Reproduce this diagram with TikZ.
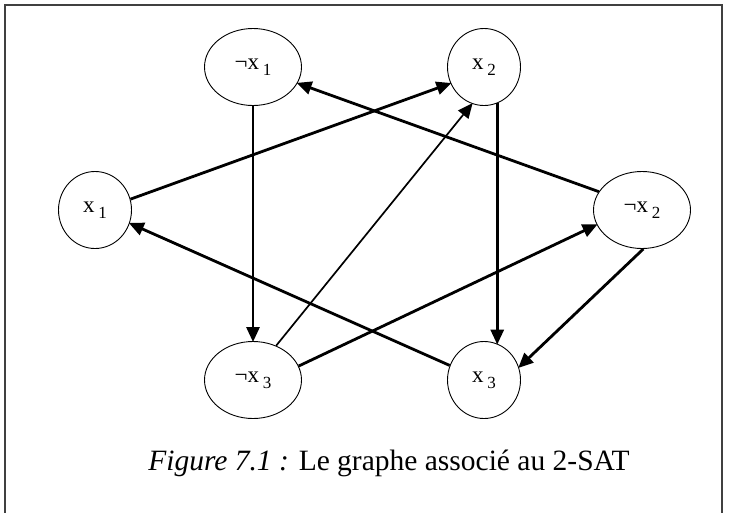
\documentclass[tikz,border=0pt]{standalone}
\usepackage{fontspec}
\setmainfont{Liberation Serif}
\usetikzlibrary{arrows.meta,shapes.geometric}
\newcommand{\lbl}[2]{#1\,\raisebox{-0.25em}{\fontsize{17}{17}\selectfont #2}}
\begin{document}
\begin{tikzpicture}[x=1pt,y=-1pt,
  vert/.style={ellipse,draw,line width=0.9pt,inner sep=0pt,minimum height=77pt,font=\fontsize{23}{23}\selectfont},
  wide/.style={vert,minimum width=97pt},
  narrow/.style={vert,minimum width=73pt},
  edge/.style={line width=2.8pt,-{Triangle[length=15pt,width=13pt]},shorten >=-1pt},
  thinedge/.style={line width=1.7pt,-{Triangle[length=15pt,width=13pt]},shorten >=-1pt},
  frame/.style={line width=1.6pt,draw=black!75}]
\useasboundingbox (0,0) rectangle (730,512);
\draw[frame] (5,514) -- (5,5) -- (722,5) -- (722,514);
\node[wide]   (nx1) at (253,67)  {\lbl{¬x}{1}};
\node[narrow] (x2)  at (484,67)  {\lbl{x}{2}};
\node[narrow] (x1)  at (95,210)  {\lbl{x}{1}};
\node[wide]   (nx2) at (642,210) {\lbl{¬x}{2}};
\node[wide]   (nx3) at (253,380) {\lbl{¬x}{3}};
\node[narrow] (x3)  at (484,380) {\lbl{x}{3}};
\draw[edge] (x1.17) -- (x2.206);
\draw[edge] (nx2.157) -- (nx1.340);
\draw[edge] (nx1.south) -- (nx3.north);
\draw[edge] (x2.290) -- (x3.70);
\draw[thinedge] (nx3.56) -- (x2.252);
\draw[edge] (nx3.17) -- (nx2.198);
\draw[edge] (x3.157) -- (x1.339);
\draw[edge] (nx2.272) -- (x3.20);
\node[anchor=base,font=\fontsize{29.5}{29.5}\selectfont] (cap) at (389,470) {\textit{Figure 7.1 :} Le graphe associé au 2-SAT};
\end{tikzpicture}
\end{document}
